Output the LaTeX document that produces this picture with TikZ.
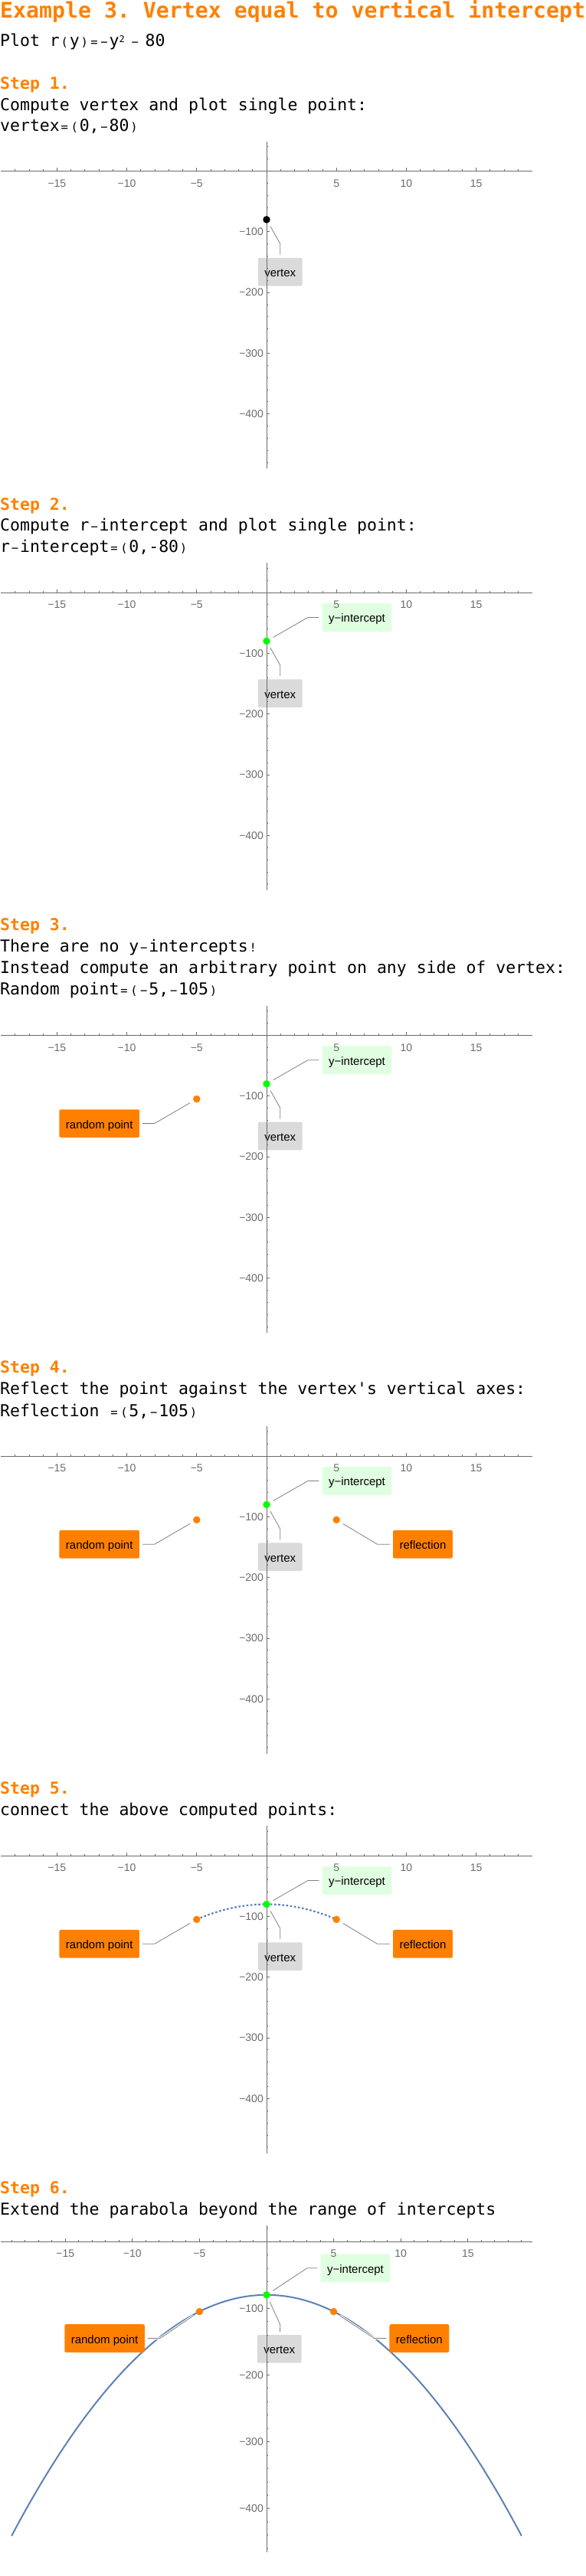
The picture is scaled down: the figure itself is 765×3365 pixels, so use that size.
\documentclass[tikz,border=0pt]{standalone}
\usepackage{fontspec}
\setmainfont{Liberation Sans}
\setmonofont{DejaVu Sans Mono}
\usetikzlibrary{positioning}

\definecolor{mmaorange}{RGB}{255,128,0}
\definecolor{mmablue}{rgb}{0.368,0.507,0.710}
\definecolor{ptgreen}{rgb}{0,1,0}
\definecolor{yigreen}{rgb}{0.88,1,0.88}
\definecolor{vxgray}{gray}{0.855}
\definecolor{axgray}{gray}{0.42}
\definecolor{leadgray}{gray}{0.5}

\pgfdeclarelayer{back}
\pgfsetlayers{back,main}

% thin small glyph in one mono cell
\newcommand{\sm}[1]{\makebox[0.602em]{\fontsize{15.5}{15.5}\selectfont #1}}
% callout: point, name, fill, text, box offset, knee offset
\newcommand{\callout}[6]{%
 \node[callbox, fill=#3] (#2) at ([shift={#5}]#1.center) {#4};
 \coordinate (#2k) at ([shift={#6}]#1.center);
 \draw[leader] (#1) -- (#2k) -- (#2);
}

\begin{document}
\begin{tikzpicture}
 \tikzstyle{axisline}=[draw=axgray, line width=0.8pt]
 \tikzstyle{ticklab}=[inner sep=0pt, text=axgray, font=\fontsize{14}{14}\selectfont]
 \tikzstyle{mono}=[anchor=base west, inner sep=0pt, font=\ttfamily\fontsize{21.5}{21.5}\selectfont]
 \tikzstyle{steptitle}=[mono, text=mmaorange, font=\ttfamily\bfseries\fontsize{21.5}{21.5}\selectfont]
 \tikzstyle{ptdot}=[circle, inner sep=0pt, minimum size=9.5pt]
 \tikzstyle{callbox}=[rounded corners=2pt, minimum height=36.7pt, inner xsep=8.5pt,
   text height=13pt, text depth=0pt, font=\fontsize{15}{15}\selectfont]
 \tikzstyle{leader}=[draw=leadgray, line width=0.8pt, shorten <=5pt, shorten >=4pt,
   preaction={draw=white, line width=3pt}]
 \useasboundingbox (0,0) rectangle (765pt,-3365pt);

 % texts
 \node[steptitle, font=\ttfamily\bfseries\fontsize{28.2}{28.2}\selectfont] (title) at (0,-23.3pt)
   {Example 3. Vertex equal to vertical intercept};
 \node[mono] (plot) at (0,-60pt) {Plot r\sm{(}y\sm{)}\sm{=}\sm{−}y\raisebox{5pt}{\fontsize{12}{12}\selectfont 2}\hspace{7pt}\sm{−}\hspace{7pt}80};
 \node[steptitle] (s1) at (0,-116.7pt) {Step 1.};
 \node[mono] (s1a) at (0,-144pt) {Compute vertex and plot single point:};
 \node[mono] (s1b) at (0,-171.7pt) {vertex\sm{=}\sm{(}0,\sm{−}80\sm{)}};
 \node[steptitle] (s2) at (0,-666pt) {Step 2.};
 \node[mono] (s2a) at (0,-693.3pt) {Compute r\sm{−}intercept and plot single point:};
 \node[mono] (s2b) at (0,-721.7pt) {r\sm{−}intercept\sm{=}\sm{(}0,-80\sm{)}};
 \node[steptitle] (s3) at (0,-1215.7pt) {Step 3.};
 \node[mono] (s3a) at (0,-1243.3pt) {There are no y\sm{−}intercepts\sm{!}};
 \node[mono] (s3b) at (0,-1271pt) {Instead compute an arbitrary point on any side of vertex:};
 \node[mono] (s3c) at (0,-1299.3pt) {Random point\sm{=}\sm{(}\sm{−}5,\sm{−}105\sm{)}};
 \node[steptitle] (s4) at (0,-1793.3pt) {Step 4.};
 \node[mono] (s4a) at (0,-1821.7pt) {Reflect the point against the vertex's vertical axes:};
 \node[mono] (s4b) at (0,-1850pt) {Reflection \sm{=}\sm{(}5,\sm{−}105\sm{)}};
 \node[steptitle] (s5) at (0,-2343.3pt) {Step 5.};
 \node[mono] (s5a) at (0,-2371pt) {connect the above computed points:};
 \node[steptitle] (s6) at (0,-2865pt) {Step 6.};
 \node[mono] (s6a) at (0,-2893.3pt) {Extend the parabola beyond the range of intercepts};

 % axes of the six panels
 \foreach \oy/\sx/\sy/\xr/\xt/\ya/\yb/\yt/\ye in
   {223.4/18.24/0.7933/19.02/18/48.6/-490/40/-480,
    774/18.24/0.7933/19.02/18/48.6/-490/40/-480,
    1352.3/18.24/0.7933/19.02/18/48.6/-490/40/-480,
    1902/18.24/0.7933/19.02/18/48.6/-490/40/-480,
    2424/18.24/0.7933/19.02/18/48.6/-490/40/-480,
    2928/17.52/0.872/19.8/19/23.7/-465.6/20/-460}{
  \begin{scope}[shift={(348pt,-\oy pt)}, x=\sx pt, y=\sy pt]
   \draw[axisline] (-\xr,0) -- (\xr,0);
   \draw[axisline] (0,\ya) -- (0,\yb);
   \foreach \i in {-\xt,...,\xt} \draw[axisline] (\i,0) -- ++(0,2pt);
   \foreach \i in {5,10,15}{
    \draw[axisline] (\i,0) -- ++(0,4pt);
    \draw[axisline] (-\i,0) -- ++(0,4pt);
    \node[ticklab] (xp\i) at ([yshift=-16pt]\i,0) {\i};
    \node[ticklab] (xm\i) at ([yshift=-16pt]-\i,0) {−\i};
   }
   \pgfmathsetmacro{\ynx}{\yt-20}
   \foreach \j in {\yt,\ynx,...,\ye} \draw[axisline] (0,\j) -- ++(2pt,0);
   \foreach \j in {100,200,300,400}{
    \draw[axisline] (0,-\j) -- ++(4pt,0);
    \node[ticklab, anchor=east] (ym\j) at ([xshift=-4pt]0,-\j) {−\j};
   }
  \end{scope}
 }

 % step 1
 \begin{scope}[shift={(348pt,-223.4pt)}, x=18.24pt, y=0.7933pt]
  \node[ptdot, fill=black] (v1) at (0,-80) {};
  \begin{pgfonlayer}{back}
   \callout{v1}{v1l}{vxgray}{vertex}{(17.75pt,-68.3pt)}{(17.8pt,-31.6pt)}
  \end{pgfonlayer}
 \end{scope}

 % step 2
 \begin{scope}[shift={(348pt,-774pt)}, x=18.24pt, y=0.7933pt]
  \node[ptdot, fill=ptgreen] (v2) at (0,-80) {};
  \begin{pgfonlayer}{back}
   \callout{v2}{y2l}{yigreen}{y−intercept}{(118pt,31pt)}{(54pt,31pt)}
   \callout{v2}{v2l}{vxgray}{vertex}{(17.75pt,-68.3pt)}{(17.8pt,-31.6pt)}
  \end{pgfonlayer}
 \end{scope}

 % step 3
 \begin{scope}[shift={(348pt,-1352.3pt)}, x=18.24pt, y=0.7933pt]
  \node[ptdot, fill=ptgreen] (v3) at (0,-80) {};
  \node[ptdot, fill=mmaorange] (r3) at (-5,-105) {};
  \begin{pgfonlayer}{back}
   \callout{v3}{y3l}{yigreen}{y−intercept}{(118pt,31pt)}{(54pt,31pt)}
   \callout{v3}{v3l}{vxgray}{vertex}{(17.75pt,-68.3pt)}{(17.8pt,-31.6pt)}
   \callout{r3}{r3l}{mmaorange}{random point}{(-127.1pt,-32pt)}{(-55.2pt,-32pt)}
  \end{pgfonlayer}
 \end{scope}

 % step 4
 \begin{scope}[shift={(348pt,-1902pt)}, x=18.24pt, y=0.7933pt]
  \node[ptdot, fill=ptgreen] (v4) at (0,-80) {};
  \node[ptdot, fill=mmaorange] (r4) at (-5,-105) {};
  \node[ptdot, fill=mmaorange] (f4) at (5,-105) {};
  \begin{pgfonlayer}{back}
   \callout{v4}{y4l}{yigreen}{y−intercept}{(118pt,31pt)}{(54pt,31pt)}
   \callout{v4}{v4l}{vxgray}{vertex}{(17.75pt,-68.3pt)}{(17.8pt,-31.6pt)}
   \callout{r4}{r4l}{mmaorange}{random point}{(-127.1pt,-32pt)}{(-55.2pt,-32pt)}
   \callout{f4}{f4l}{mmaorange}{reflection}{(112.8pt,-32pt)}{(53.4pt,-32pt)}
  \end{pgfonlayer}
 \end{scope}

 % step 5
 \begin{scope}[shift={(348pt,-2424pt)}, x=18.24pt, y=0.7933pt]
  \node[ptdot, fill=ptgreen] (v5) at (0,-80) {};
  \node[ptdot, fill=mmaorange] (r5) at (-5,-105) {};
  \node[ptdot, fill=mmaorange] (f5) at (5,-105) {};
  \begin{pgfonlayer}{back}
   \draw[mmablue, line width=2.2pt, dash pattern=on 2.6pt off 2.6pt]
     plot[domain=-5:5, samples=60] (\x,{-(\x)*(\x)-80});
   \callout{v5}{y5l}{yigreen}{y−intercept}{(118pt,31pt)}{(54pt,31pt)}
   \callout{v5}{v5l}{vxgray}{vertex}{(17.75pt,-68.3pt)}{(17.8pt,-31.6pt)}
   \callout{r5}{r5l}{mmaorange}{random point}{(-127.1pt,-32pt)}{(-55.2pt,-32pt)}
   \callout{f5}{f5l}{mmaorange}{reflection}{(112.8pt,-32pt)}{(53.4pt,-32pt)}
  \end{pgfonlayer}
 \end{scope}

 % step 6
 \begin{scope}[shift={(348pt,-2928pt)}, x=17.52pt, y=0.872pt]
  \node[ptdot, fill=ptgreen] (v6) at (0,-80) {};
  \node[ptdot, fill=mmaorange] (r6) at (-5,-105) {};
  \node[ptdot, fill=mmaorange] (f6) at (5,-105) {};
  \begin{pgfonlayer}{back}
   \draw[mmablue, line width=2pt] plot[domain=-19:19, samples=120] (\x,{-(\x)*(\x)-80});
   \callout{v6}{y6l}{yigreen}{y−intercept}{(116pt,35pt)}{(53pt,35pt)}
   \callout{v6}{v6l}{vxgray}{vertex}{(16.75pt,-70.6pt)}{(17.8pt,-39pt)}
   \callout{r6}{r6l}{mmaorange}{random point}{(-123.8pt,-35pt)}{(-51.4pt,-35pt)}
   \callout{f6}{f6l}{mmaorange}{reflection}{(111.8pt,-35pt)}{(52.8pt,-35pt)}
  \end{pgfonlayer}
 \end{scope}
\end{tikzpicture}
\end{document}
